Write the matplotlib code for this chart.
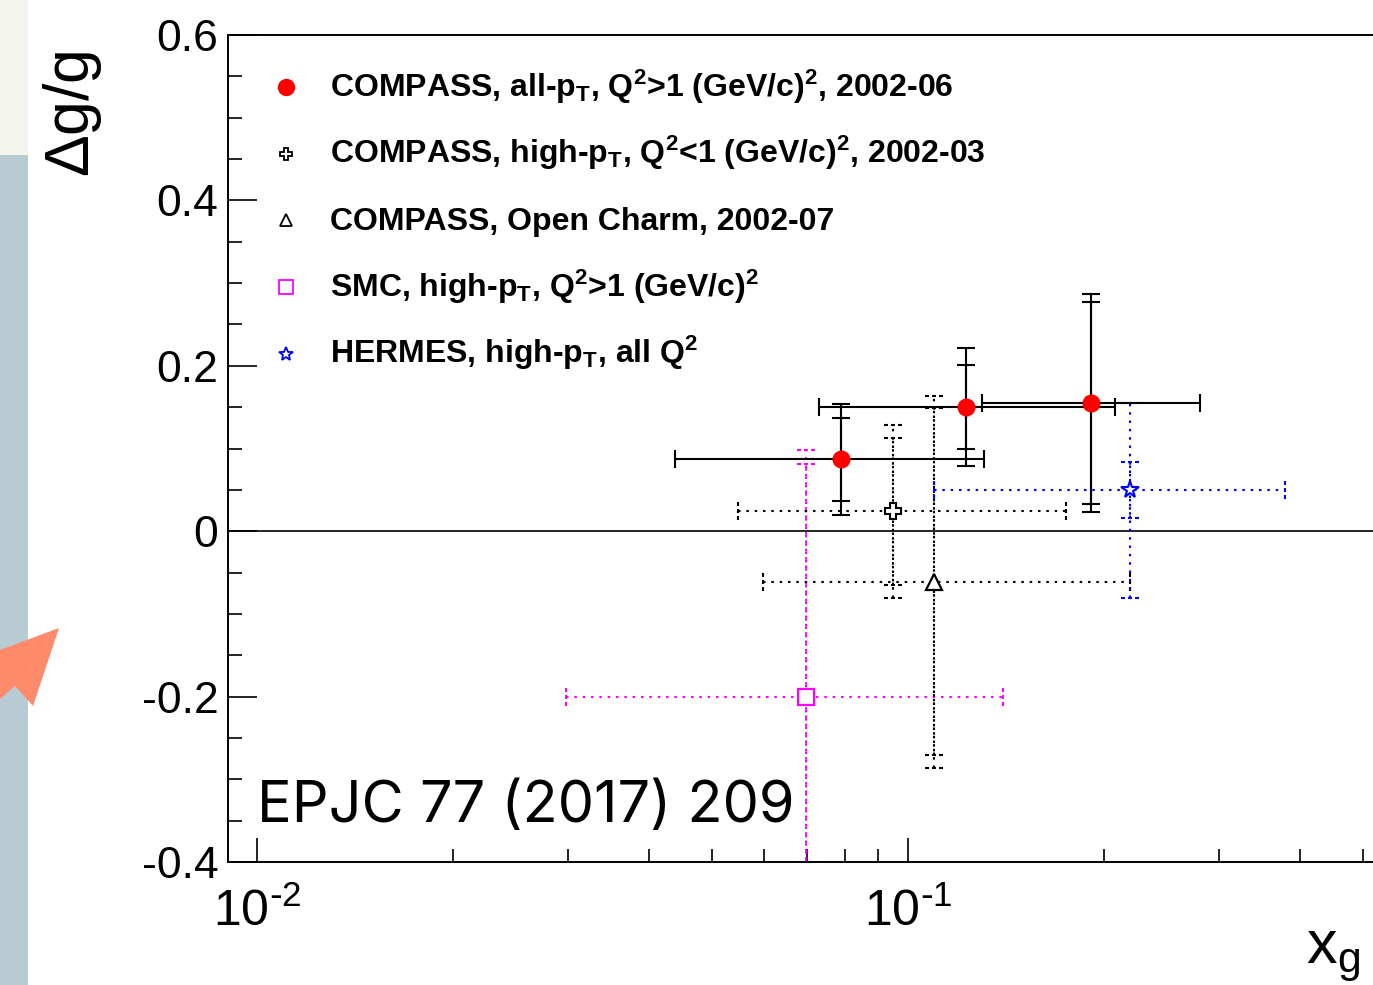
import numpy as np
import matplotlib
matplotlib.use("Agg")
import matplotlib.pyplot as plt
from matplotlib.path import Path
from matplotlib.patches import Rectangle, Polygon
from matplotlib.ticker import MultipleLocator, LogLocator, FuncFormatter, NullFormatter

plt.rcParams["font.family"] = ["Liberation Sans", "DejaVu Sans"]
plt.rcParams["mathtext.default"] = "regular"

# ---- data ----
# COMPASS, all-pT, Q2>1 (red circles)
allpt_x = np.array([0.0788, 0.1228, 0.1911])
allpt_xlo = np.array([0.0439, 0.0729, 0.1299])
allpt_xhi = np.array([0.1308, 0.2076, 0.2804])
allpt_y = np.array([0.087, 0.150, 0.155])
allpt_stat = np.array([0.050, 0.051, 0.122])
allpt_tot = np.array([0.067, 0.071, 0.132])

# COMPASS, high-pT, Q2<1 (open cross)
hipt_x = np.array([0.0947])
hipt_xlo = np.array([0.0549])
hipt_xhi = np.array([0.1749])
hipt_y = np.array([0.024])
hipt_stat = np.array([0.089])
hipt_tot = np.array([0.105])

# COMPASS, open charm (open triangle)
charm_x = np.array([0.1097])
charm_xlo = np.array([0.0598])
charm_xhi = np.array([0.219])
charm_y = np.array([-0.061])
charm_stat = np.array([0.210])
charm_tot = np.array([0.225])

# SMC, high-pT (open square)
smc_x = np.array([0.0698])
smc_xlo = np.array([0.0298])
smc_xhi = np.array([0.140])
smc_y = np.array([-0.200])
smc_stat = np.array([0.281])
smc_tot = np.array([0.298])

# HERMES, high-pT (open star)
hermes_x = np.array([0.219])
hermes_xlo = np.array([0.1097])
hermes_xhi = np.array([0.379])
hermes_y = np.array([0.0497])
hermes_stat = np.array([0.034])
hermes_tot_lo = np.array([0.131])
hermes_tot_hi = np.array([0.105])

labels = [
    r"COMPASS, all-p$_{T}$, Q$^{2}$>1 (GeV/c)$^{2}$, 2002-06",
    r"COMPASS, high-p$_{T}$, Q$^{2}$<1 (GeV/c)$^{2}$, 2002-03",
    r"COMPASS, Open Charm, 2002-07",
    r"SMC, high-p$_{T}$, Q$^{2}$>1 (GeV/c)$^{2}$",
    r"HERMES, high-p$_{T}$, all Q$^{2}$",
]

W, H = 1373, 985
fig = plt.figure(figsize=(W / 100, H / 100), dpi=100)


def fx(px):
    return px / W


def fy(py):
    return 1 - py / H


# slide decoration at the left edge
fig.patches.append(Rectangle((0, fy(155)), fx(28), 155 / H, transform=fig.transFigure,
                             facecolor="#f4f4ef", edgecolor="none"))
fig.patches.append(Rectangle((0, 0), fx(28), fy(155), transform=fig.transFigure,
                             facecolor="#b8cad2", edgecolor="none"))
arrow = [(0, 650), (59, 628), (33, 706), (15, 686), (0, 699)]
fig.patches.append(Polygon([(fx(a), fy(b)) for a, b in arrow], closed=True,
                           transform=fig.transFigure, facecolor="#ff8a6c", edgecolor="none"))

ax = fig.add_axes([fx(228), fy(862), (1380 - 228) / W, 827 / H])
ax.set_xscale("log")
ax.set_xlim(10 ** (-2 - 29 / 651), 10 ** (-2 + 1123 / 651))
ax.set_ylim(-0.4, 0.6)

ax.axhline(0, color="black", lw=1.2, zorder=1)

dots = (0, (1.2, 2.8))
hcap = Path([(-0.5, 0), (-0.3, 0), (-0.1, 0), (0.1, 0), (0.3, 0), (0.5, 0)],
            [Path.MOVETO, Path.LINETO] * 3)
vcap = Path([(0, -0.5), (0, -0.3), (0, -0.1), (0, 0.1), (0, 0.3), (0, 0.5)],
            [Path.MOVETO, Path.LINETO] * 3)


def point(x, xlo, xhi, y, stat, tot_lo, tot_hi, color, dotted):
    lw = 1.5
    outs = []
    outs.append(ax.errorbar(x, y, xerr=[x - xlo, xhi - x], yerr=[tot_lo, tot_hi], fmt="none",
                            ecolor=color, elinewidth=lw, capsize=6.5, capthick=lw, zorder=2))
    outs.append(ax.errorbar(x, y, yerr=stat, fmt="none", ecolor=color, elinewidth=lw,
                            capsize=6.5, capthick=lw, zorder=2))
    if dotted:
        for eb in outs:
            for lc in eb[2]:
                lc.set_linestyle(dots)
            for cap in eb[1]:
                cap.set_marker(hcap if cap.get_marker() == "_" else vcap)
                cap.set_markerfacecolor("none")


point(smc_x, smc_xlo, smc_xhi, smc_y, smc_stat, smc_tot, smc_tot, "#ff00ff", True)
point(charm_x, charm_xlo, charm_xhi, charm_y, charm_stat, charm_tot, charm_tot, "black", True)
point(hipt_x, hipt_xlo, hipt_xhi, hipt_y, hipt_stat, hipt_tot, hipt_tot, "black", True)
point(hermes_x, hermes_xlo, hermes_xhi, hermes_y, hermes_stat, hermes_tot_lo, hermes_tot_hi,
      "#0000ff", True)
point(allpt_x, allpt_xlo, allpt_xhi, allpt_y, allpt_stat, allpt_tot, allpt_tot, "black", False)

styles = [
    dict(marker="o", ms=13, mfc="#ff0000", mec="#ff0000", mew=0),
    dict(marker="P", ms=11.5, mfc="white", mec="black", mew=1.5),
    dict(marker="^", ms=11.5, mfc="white", mec="black", mew=1.6),
    dict(marker="s", ms=11, mfc="white", mec="#ff00ff", mew=1.6),
    dict(marker="*", ms=13, mfc="white", mec="#0000ff", mew=1.5),
]
ax.plot(smc_x, smc_y, ls="none", zorder=4, **styles[3])
ax.plot(charm_x, charm_y, ls="none", zorder=4, **styles[2])
ax.plot(hipt_x, hipt_y, ls="none", zorder=4, **styles[1])
ax.plot(hermes_x, hermes_y, ls="none", zorder=4, **styles[4])
ax.plot(allpt_x, allpt_y, ls="none", zorder=5, **styles[0])

# legend, drawn by hand in axes coordinates
leg_ms = [12.5, 9, 9, 9.5, 10.5]
for i, (lab, st) in enumerate(zip(labels, styles)):
    base = 96.7 + i * 66.6
    st = dict(st, ms=leg_ms[i], mew=min(st["mew"], 1.3) if st["mew"] else 0)
    ax.plot([(286 - 228) / 1152], [(862 - base + 9.5) / 827], transform=ax.transAxes,
            clip_on=False, ls="none", **st)
    ax.text((330 - 228) / 1152, (862 - base) / 827, lab, transform=ax.transAxes,
            fontsize=23, fontweight="bold", va="baseline", ha="left")

ax.text((257 - 228) / 1152, (862 - 822) / 827, "EPJC 77 (2017) 209", transform=ax.transAxes,
        fontsize=41.5, family=["Inter", "DejaVu Sans"], va="baseline", ha="left")

# axes styling
for s in ["left", "bottom", "top"]:
    ax.spines[s].set_linewidth(1.4)
ax.spines["right"].set_visible(False)

ax.set_yticks([-0.4, -0.2, 0, 0.2, 0.4, 0.6])
ax.set_yticklabels(["-0.4", "-0.2", "0", "0.2", "0.4", "0.6"])
ax.yaxis.set_minor_locator(MultipleLocator(0.05))
ax.xaxis.set_major_locator(LogLocator(base=10))
ax.xaxis.set_minor_locator(LogLocator(base=10, subs=np.arange(2, 10)))
ax.xaxis.set_major_formatter(
    FuncFormatter(lambda v, p: r"10$^{\text{-}%d}$" % abs(round(np.log10(v)))))
ax.xaxis.set_minor_formatter(NullFormatter())

ax.tick_params(axis="both", which="both", direction="in", top=False, right=False, width=1.2)
ax.tick_params(axis="y", which="major", length=21, pad=7, labelsize=32)
ax.tick_params(axis="y", which="minor", length=10)
ax.tick_params(axis="x", which="major", length=17, pad=19, labelsize=36)
ax.tick_params(axis="x", which="minor", length=9.5)

fig.text(fx(72), fy(50), r"$\Delta$g/g", rotation=90, ha="center", va="top", fontsize=45)
fig.text(fx(1360), fy(963), r"x$_{g}$", ha="right", va="baseline", fontsize=44)

fig.savefig("out.png", dpi=100)
